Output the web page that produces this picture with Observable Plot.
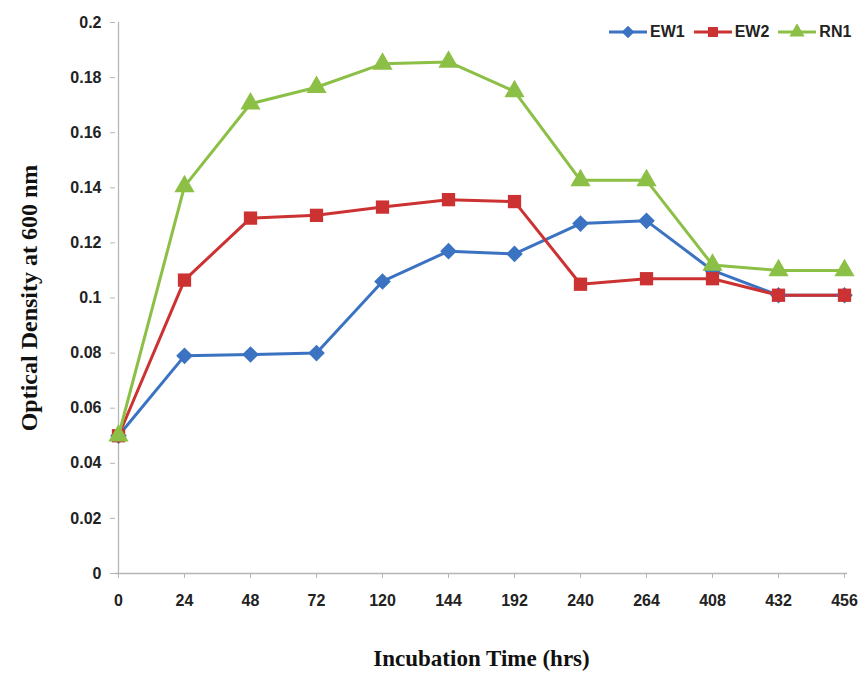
<!DOCTYPE html>
<html><head><meta charset="utf-8">
<script src="https://cdn.jsdelivr.net/npm/d3@7"></script>
<script src="https://cdn.jsdelivr.net/npm/@observablehq/plot@0.6"></script>
<style>
body{margin:0;background:#fff;}
#wrap{position:relative;width:864px;height:673px;}
#legend{position:absolute;top:23px;left:609px;display:flex;align-items:center;font:bold 16px "Liberation Sans Narrow","Liberation Sans",sans-serif;color:#222;}
#legend .item{display:flex;align-items:center;margin-right:9px;}
#legend .item span{margin-left:3px;}
g[aria-label="x-axis label"] text, g[aria-label="y-axis label"] text{font-family:"Liberation Serif","DejaVu Serif",serif;font-weight:bold;fill:#111;}
g[aria-label="x-axis label"] text{font-size:23px;}
g[aria-label="y-axis label"] text{font-size:24px;}
</style>
</head><body>
<div id="wrap"><div id="legend"></div></div>
<script>
const times = ["0","24","48","72","120","144","192","240","264","408","432","456"];
const seriesNames = ["EW1","EW2","RN1"];
const ew1 = [0.050,0.079,0.0795,0.080,0.106,0.117,0.116,0.127,0.128,0.110,0.101,0.101];
const ew2 = [0.050,0.1065,0.129,0.130,0.133,0.1357,0.135,0.105,0.107,0.107,0.101,0.101];
const rn1 = [0.050,0.1405,0.1705,0.1765,0.185,0.1857,0.175,0.1427,0.1427,0.112,0.110,0.110];
const yTicks = [0,0.02,0.04,0.06,0.08,0.1,0.12,0.14,0.16,0.18,0.2];
const colors = ["#3B73C2","#CC3232","#8CBF45"];
const symbols = ["diamond2","square","triangle"];

const valuesBySeries = [ew1, ew2, rn1];
const rows = [];
seriesNames.forEach((s, i) => times.forEach((t, j) => rows.push({series: s, time: t, value: valuesBySeries[i][j]})));

const tickFont = '"Liberation Sans Narrow","Liberation Sans",sans-serif';
const fmt = d => String(+d.toFixed(2));

const chart = Plot.plot({
  width: 864, height: 673,
  marginLeft: 115, marginRight: 17, marginTop: 22, marginBottom: 100,
  style: {background: "transparent"},
  x: {type: "point", domain: times, padding: 0},
  y: {domain: [0, 0.2]},
  color: {domain: seriesNames, range: colors},
  symbol: {domain: seriesNames, range: symbols},
  marks: [
    Plot.ruleY([0], {stroke: "#b5b5b5", strokeWidth: 1.3}),
    Plot.ruleX([times[0]], {stroke: "#b5b5b5", strokeWidth: 1.3}),
    Plot.axisY({ticks: yTicks, tickFormat: fmt, tickSize: 5, tickPadding: 9, stroke: "#b5b5b5",
      fill: "#222", fontSize: 16, fontWeight: "bold", fontFamily: tickFont,
      label: "Optical Density at 600 nm", labelAnchor: "center", labelOffset: 96, labelArrow: "none"}),
    Plot.axisX({tickSize: 5, tickPadding: 16, stroke: "#b5b5b5",
      fill: "#222", fontSize: 16, fontWeight: "bold", fontFamily: tickFont,
      label: "Incubation Time (hrs)", labelAnchor: "center", labelOffset: 92, labelArrow: "none"}),
    Plot.line(rows, {x: "time", y: "value", z: "series", stroke: "series", strokeWidth: 3}),
    Plot.dot(rows, {x: "time", y: "value", symbol: "series", fill: "series", stroke: "none", r: 7.5})
  ]
});
document.getElementById("wrap").appendChild(chart);

// legend
const legend = d3.select("#legend");
seriesNames.forEach((s, i) => {
  const item = legend.append("div").attr("class", "item");
  const svg = item.append("svg").attr("width", 38).attr("height", 16);
  svg.append("line").attr("x1", 0).attr("x2", 38).attr("y1", 8).attr("y2", 8)
    .attr("stroke", colors[i]).attr("stroke-width", 3);
  const sym = {diamond2: d3.symbolDiamond2, square: d3.symbolSquare, triangle: d3.symbolTriangle}[symbols[i]];
  svg.append("path").attr("transform", "translate(19,8)")
    .attr("d", d3.symbol(sym, 100)()).attr("fill", colors[i]);
  item.append("span").text(s);
});
</script>
</body></html>
